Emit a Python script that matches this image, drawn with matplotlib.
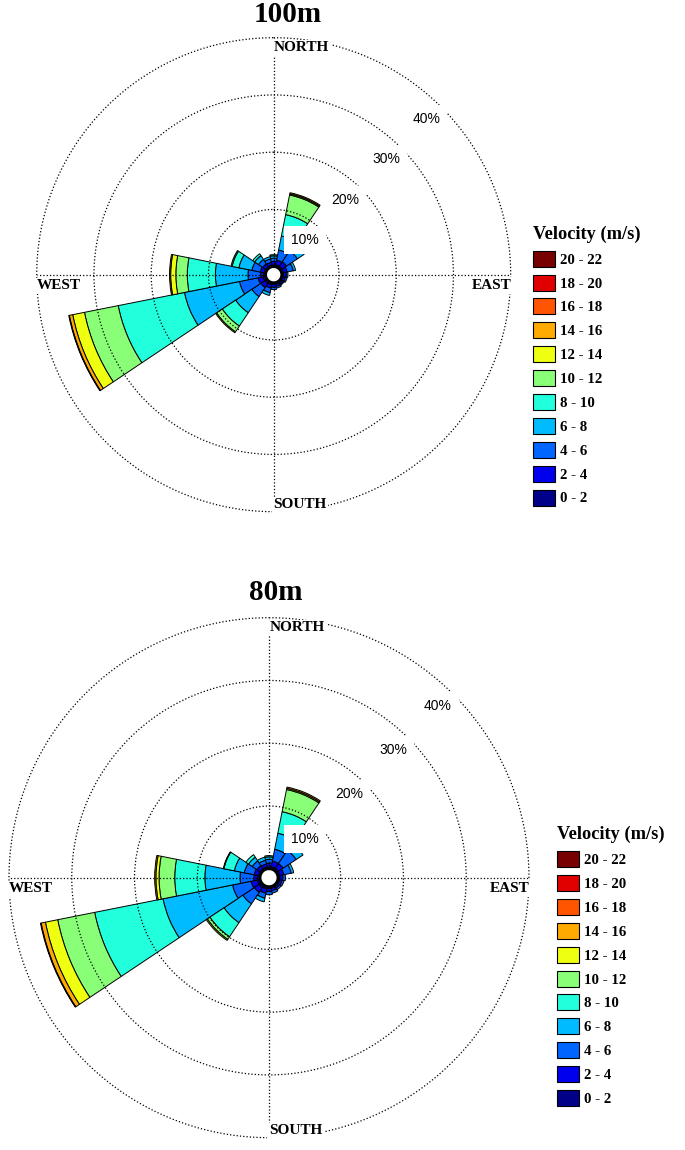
import matplotlib.pyplot as plt
import numpy as np
from matplotlib.patches import Patch

W_PX, H_PX = 685, 1150

DIRECTIONS = ["N", "NNE", "NE", "ENE", "E", "ESE", "SE", "SSE",
              "S", "SSW", "SW", "WSW", "W", "WNW", "NW", "NNW"]
DIR_DEG = np.arange(0, 360, 22.5)

SPEED_BINS = ["0 - 2", "2 - 4", "4 - 6", "6 - 8", "8 - 10", "10 - 12",
              "12 - 14", "14 - 16", "16 - 18", "18 - 20", "20 - 22"]
BIN_COLORS = ["#000088", "#0000ee", "#0066ff", "#00bbff", "#22ffdd", "#88ff77",
              "#eeff11", "#ffaa00", "#ff5500", "#e00000", "#780000"]

# frequency (%) per direction (rows, N clockwise) and speed bin (columns)
FREQ_100M = [
    [0.3, 0.6, 0.6, 0.4, 0.2, 0, 0, 0, 0, 0, 0],          # N
    [0.4, 0.8, 1.8, 2.5, 3.8, 3.5, 0.2, 0.2, 0, 0, 0],    # NNE
    [0.4, 0.9, 2.3, 1.4, 0, 0, 0, 0, 0, 0, 0],            # NE
    [0.3, 0.7, 1.1, 0.4, 0, 0, 0, 0, 0, 0, 0],            # ENE
    [0.3, 0.5, 0.3, 0, 0, 0, 0, 0, 0, 0, 0],              # E
    [0.3, 0.4, 0.3, 0, 0, 0, 0, 0, 0, 0, 0],              # ESE
    [0.3, 0.3, 0.2, 0, 0, 0, 0, 0, 0, 0, 0],              # SE
    [0.3, 0.4, 0.3, 0, 0, 0, 0, 0, 0, 0, 0],              # SSE
    [0.3, 0.5, 0.4, 0, 0, 0, 0, 0, 0, 0, 0],              # S
    [0.4, 0.6, 0.8, 0.5, 0, 0, 0, 0, 0, 0, 0],            # SSW
    [0.5, 0.8, 1.9, 3.4, 2.8, 1.2, 0.2, 0, 0, 0, 0],      # SW
    [0.5, 0.9, 3.3, 9.8, 11.8, 6.0, 2.1, 0.6, 0.1, 0, 0], # WSW
    [0.4, 0.5, 2.2, 5.7, 4.9, 2.0, 0.9, 0.2, 0, 0, 0],    # W
    [0.3, 0.7, 1.5, 2.3, 1.2, 0.2, 0, 0, 0, 0, 0],        # WNW
    [0.3, 0.6, 0.9, 0.8, 0.4, 0, 0, 0, 0, 0, 0],          # NW
    [0.3, 0.5, 0.6, 0.4, 0, 0, 0, 0, 0, 0, 0],            # NNW
]

FREQ_80M = [
    [0.3, 0.6, 0.6, 0.4, 0.2, 0, 0, 0, 0, 0, 0],          # N
    [0.4, 0.9, 1.9, 2.6, 3.5, 3.6, 0.2, 0.2, 0, 0, 0],    # NNE
    [0.4, 0.9, 2.5, 1.3, 0, 0, 0, 0, 0, 0, 0],            # NE
    [0.3, 0.7, 1.2, 0.4, 0, 0, 0, 0, 0, 0, 0],            # ENE
    [0.3, 0.5, 0.4, 0, 0, 0, 0, 0, 0, 0, 0],              # E
    [0.3, 0.4, 0.3, 0, 0, 0, 0, 0, 0, 0, 0],              # ESE
    [0.3, 0.3, 0.3, 0, 0, 0, 0, 0, 0, 0, 0],              # SE
    [0.3, 0.4, 0.4, 0, 0, 0, 0, 0, 0, 0, 0],              # SSE
    [0.3, 0.5, 0.5, 0, 0, 0, 0, 0, 0, 0, 0],              # S
    [0.4, 0.7, 0.8, 0.6, 0, 0, 0, 0, 0, 0, 0],            # SSW
    [0.5, 0.9, 2.2, 3.6, 2.7, 0.5, 0.2, 0, 0, 0, 0],      # SW
    [0.5, 1.0, 3.0, 11.3, 11.1, 6.0, 2.0, 0.7, 0.1, 0, 0],# WSW
    [0.4, 0.6, 2.2, 5.6, 4.8, 2.5, 0.5, 0.2, 0, 0, 0],    # W
    [0.3, 0.7, 1.6, 1.6, 1.7, 0.1, 0, 0, 0, 0, 0],        # WNW
    [0.3, 0.6, 0.9, 0.7, 0.5, 0, 0, 0, 0, 0, 0],          # NW
    [0.3, 0.5, 0.6, 0.5, 0, 0, 0, 0, 0, 0, 0],            # NNW
]

RINGS = [10, 20, 30, 40]
SERIF = "Liberation Serif"
SANS = "Liberation Sans"


def px_rect(cx, cy, r):
    # axes box (figure fraction) for a polar plot centred at pixel (cx, cy)
    return [(cx - r) / W_PX, 1 - (cy + r) / H_PX, 2 * r / W_PX, 2 * r / H_PX]


def draw_rose(fig, freq, cx, cy, r40, r_hole):
    k = (r40 - r_hole) / 40.0
    ax = fig.add_axes(px_rect(cx, cy, r40), projection="polar")
    ax.set_theta_zero_location("N")
    ax.set_theta_direction(-1)
    ax.set_ylim(0, 40)
    ax.set_rorigin(-r_hole / k)

    freq = np.array(freq)
    theta = np.radians(DIR_DEG)
    bottom = np.zeros(len(theta))
    for j, color in enumerate(BIN_COLORS):
        h = freq[:, j]
        m = h > 0
        if m.any():
            ax.bar(theta[m], h[m], width=np.radians(22.5), bottom=bottom[m],
                   color=color, edgecolor="k", linewidth=0.7, align="center")
        bottom += h

    ax.set_xticks(np.radians([0, 90, 180, 270]))
    ax.set_xticklabels([])
    ax.set_yticks(RINGS[:-1])
    ax.set_yticklabels([])
    ax.grid(True, linestyle=":", color="k", linewidth=0.9)
    for sp in ax.spines.values():
        sp.set_visible(False)

    t = np.linspace(0, 2 * np.pi, 400)
    # outer 40% ring, same dotted style as the grid
    ax.plot(t, np.full_like(t, RINGS[-1]), linestyle=":", color="k",
            linewidth=0.9, clip_on=False, zorder=2)
    # white hub with thick black rim
    ax.plot(t, np.zeros_like(t), color="k", lw=1.9, clip_on=False, zorder=5)

    for p in RINGS:
        ax.annotate(f"{p}%", xy=(np.radians(45), p), xytext=(-0.7, -3.4),
                    textcoords="offset points", ha="right", va="top",
                    fontsize=10, family=SANS, annotation_clip=False, zorder=6,
                    bbox=dict(boxstyle="square,pad=0.5", fc="white", ec="none"))

    card = dict(fontsize=11, fontweight="bold", family=SERIF,
                textcoords="offset points", annotation_clip=False, zorder=6,
                bbox=dict(boxstyle="square,pad=0.1", fc="white", ec="none"))
    ax.annotate("NORTH", xy=(0, 40), xytext=(0.2, -2.5), ha="left", va="top", **card)
    ax.annotate("SOUTH", xy=(np.pi, 40), xytext=(-0.2, 2.5), ha="left", va="baseline", **card)
    ax.annotate("WEST", xy=(1.5 * np.pi, 40), xytext=(0, -3.3), ha="left", va="top", **card)
    ax.annotate("EAST", xy=(0.5 * np.pi, 40), xytext=(0.7, -3.1), ha="right", va="top", **card)
    return ax


def add_legend(fig, x, y):
    handles = [Patch(facecolor=c, edgecolor="k", linewidth=0.8, label=l)
               for c, l in zip(BIN_COLORS, SPEED_BINS)][::-1]
    fig.legend(handles=handles, loc="upper left",
               bbox_to_anchor=(x / W_PX, 1 - y / H_PX), frameon=False,
               title="Velocity (m/s)", alignment="left",
               prop=dict(family=SERIF, weight="bold", size=10.7),
               title_fontproperties=dict(family=SERIF, weight="bold", size=13.2),
               handlelength=1.5, handleheight=1.28, handletextpad=0.34,
               labelspacing=0.53, borderpad=0, borderaxespad=0)


fig = plt.figure(figsize=(W_PX / 100, H_PX / 100), dpi=100)

draw_rose(fig, FREQ_100M, 273.7, 274.7, 237, 8)
add_legend(fig, 533, 225.5)
fig.text(288 / W_PX, 1 - 21.7 / H_PX, "100m", ha="center", va="baseline",
         fontsize=21, fontweight="bold", family=SERIF)

draw_rose(fig, FREQ_80M, 269, 877.7, 260, 8.9)
add_legend(fig, 557, 826)
fig.text(276 / W_PX, 1 - 600 / H_PX, "80m", ha="center", va="baseline",
         fontsize=21, fontweight="bold", family=SERIF)

fig.savefig("out.png", dpi=100, facecolor="white")
